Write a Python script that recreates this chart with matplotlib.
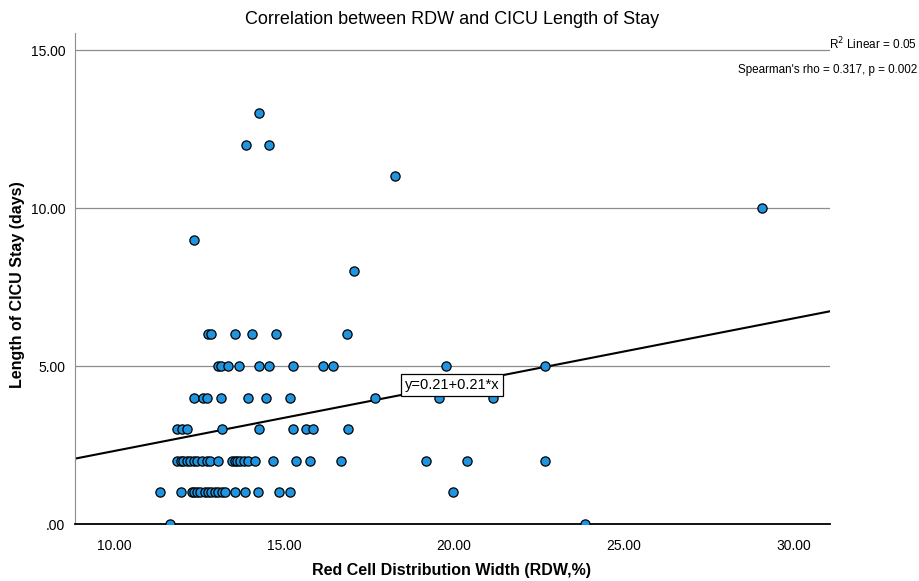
import matplotlib
matplotlib.use("Agg")
import matplotlib.pyplot as plt
import numpy as np

# Data: RDW (%) values grouped by CICU length of stay (days)
rdw_0 = [11.65, 23.85]
rdw_1 = [11.35, 11.96, 12.29, 12.36, 12.45, 12.53, 12.68, 12.77, 12.84, 12.97,
         13.07, 13.17, 13.26, 13.56, 13.85, 14.24, 14.86, 15.16, 19.97]
rdw_2 = [11.84, 11.96, 12.04, 12.14, 12.24, 12.35, 12.45, 12.58, 12.73, 12.82,
         13.07, 13.46, 13.56, 13.63, 13.71, 13.82, 13.95, 14.15, 14.67, 15.35,
         15.76, 16.67, 19.17, 20.37, 22.68]
rdw_3 = [11.84, 11.99, 12.14, 13.17, 14.26, 15.26, 15.65, 15.86, 16.87]
rdw_4 = [12.35, 12.63, 12.73, 13.15, 13.95, 14.46, 15.16, 17.68, 19.57, 21.16]
rdw_5 = [13.07, 13.14, 13.36, 13.66, 14.25, 14.56, 15.26, 16.16, 16.45, 19.76, 22.68]
rdw_6 = [12.77, 12.84, 13.56, 14.07, 14.75, 16.85]
rdw_8 = [17.07]
rdw_9 = [12.36]
rdw_10 = [29.06]
rdw_11 = [18.26]
rdw_12 = [13.87, 14.56]
rdw_13 = [14.26]

groups = {0: rdw_0, 1: rdw_1, 2: rdw_2, 3: rdw_3, 4: rdw_4, 5: rdw_5, 6: rdw_6,
          8: rdw_8, 9: rdw_9, 10: rdw_10, 11: rdw_11, 12: rdw_12, 13: rdw_13}

intercept = 0.21
slope = 0.21

x_ticks = [10, 15, 20, 25, 30]
x_ticklabels = ["10.00", "15.00", "20.00", "25.00", "30.00"]
y_ticks = [0, 5, 10, 15]
y_ticklabels = [".00", "5.00", "10.00", "15.00"]

rdw = []
los = []
for d, vals in groups.items():
    rdw.extend(vals)
    los.extend([d] * len(vals))
rdw = np.array(rdw)
los = np.array(los)

plt.rcParams['font.family'] = ['Liberation Sans', 'DejaVu Sans']

fig = plt.figure(figsize=(9.19, 5.81), dpi=100)
ax = fig.add_axes([75/919, 1-524/581, (830-75)/919, (524-33)/581])

xlim = (8.85, 31.06)
ax.set_xlim(*xlim)
ax.set_ylim(0, 15.54)

for yv in [5, 10, 15]:
    ax.axhline(yv, color='#8c8c8c', lw=0.9, zorder=1)

xs = np.array(xlim)
ax.plot(xs, intercept + slope * xs, color='black', lw=1.5, zorder=2)

ax.scatter(rdw, los, s=44, facecolor='#1f94e0', edgecolor='black', linewidth=0.9, zorder=3)

ax.text(19.94, 4.4, "y=0.21+0.21*x", ha='center', va='center', fontsize=10.5,
        bbox=dict(boxstyle='square,pad=0.25', facecolor='white', edgecolor='black', lw=0.9),
        zorder=4)

for s in ['top', 'right']:
    ax.spines[s].set_visible(False)
ax.spines['left'].set_color('#8c8c8c')
ax.spines['bottom'].set_color('black')
ax.spines['bottom'].set_linewidth(1.3)

ax.set_xticks(x_ticks)
ax.set_xticklabels(x_ticklabels, fontsize=10)
ax.set_yticks(y_ticks)
ax.set_yticklabels(y_ticklabels, fontsize=10)
ax.tick_params(axis='both', length=0, pad=7)
ax.tick_params(axis='x', pad=11)

fig.text(452/919, 1-571/581, "Red Cell Distribution Width (RDW,%)", ha='center',
         va='center', fontsize=11.5, fontweight='bold')
fig.text(18/919, 1-285/581, "Length of CICU Stay (days)", ha='center', va='center',
         rotation=90, fontsize=11.5, fontweight='bold')

fig.text(452/919, 1-20/581, "Correlation between RDW and CICU Length of Stay",
         ha='center', va='center', fontsize=13)
fig.text(829/919, 1-44/581, "R$^2$ Linear = 0.05", ha='left', va='center', fontsize=8.5)
fig.text(738/919, 1-70/581, "Spearman's rho = 0.317, p = 0.002", ha='left', va='center',
         fontsize=8.4)

fig.savefig("out.png", dpi=100)
